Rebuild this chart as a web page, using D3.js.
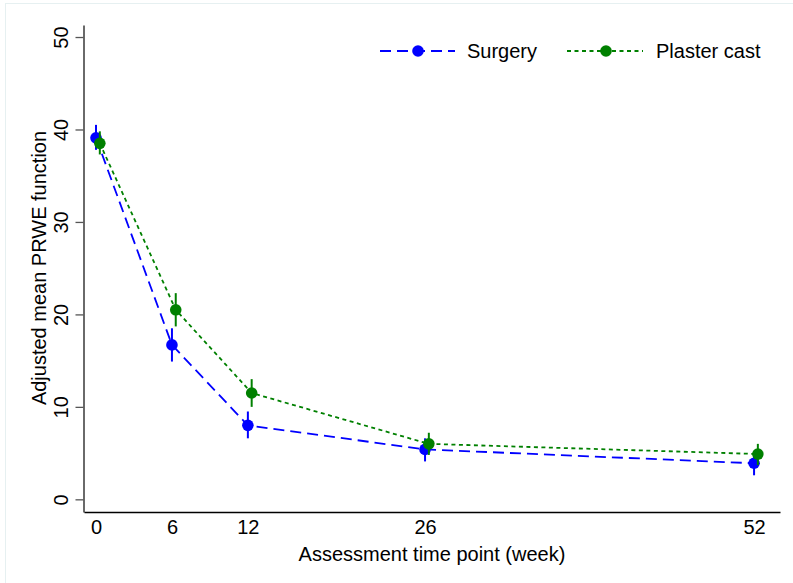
<!DOCTYPE html>
<html>
<head>
<meta charset="utf-8">
<script src="https://cdn.jsdelivr.net/npm/d3@7"></script>
<style>
  html, body { margin: 0; padding: 0; background: #fff; }
  svg { display: block; font-family: "Liberation Sans", Arial, sans-serif; }
</style>
</head>
<body>
<svg id="chart" width="793" height="583"></svg>
<script>
// ---- data ----
const weeks = [0, 6, 12, 26, 52];
const xTickLabels = [0, 6, 12, 26, 52];
const yTickLabels = [0, 10, 20, 30, 40, 50];

const surgeryMean  = [39.1, 16.7, 8.0, 5.4, 3.9];
const surgeryLower = [37.8, 14.9, 6.6, 4.1, 2.6];
const surgeryUpper = [40.5, 18.5, 9.5, 6.6, 5.0];

const plasterMean  = [38.5, 20.5, 11.5, 6.0, 4.9];
const plasterLower = [37.3, 18.7, 10.0, 4.8, 3.7];
const plasterUpper = [39.8, 22.3, 13.0, 7.2, 6.0];

const seriesNames = ["Surgery", "Plaster cast"];

// ---- layout ----
const svg = d3.select("#chart");
const font = 20;

svg.append("rect")
  .attr("x", 5.5).attr("y", 3.5).attr("width", 820).attr("height", 620)
  .attr("fill", "none").attr("stroke", "#e6f0f1").attr("stroke-width", 1);

const x = d3.scaleLinear().domain([-0.95, 54.05]).range([84, 780]);
const y = d3.scaleLinear().domain([-1.37, 51.3]).range([512, 25]);

// y axis
const yAxis = svg.append("g")
  .attr("transform", "translate(83.5,0)")
  .call(d3.axisLeft(y).tickValues(yTickLabels).tickSizeInner(8).tickSizeOuter(0).tickPadding(0));
yAxis.select(".domain").attr("stroke", "#5a5a5a").attr("stroke-width", 1.8);
yAxis.selectAll(".tick line").attr("stroke", "#555").attr("stroke-width", 1.3);
yAxis.selectAll(".tick text")
  .attr("transform", "rotate(-90)")
  .attr("x", 0).attr("y", -16).attr("dy", 0)
  .attr("text-anchor", "middle")
  .attr("font-size", font)
  .attr("font-family", "Liberation Sans, Arial, sans-serif")
  .attr("fill", "#000");

// x axis
const xAxis = svg.append("g")
  .attr("transform", "translate(0,512)")
  .call(d3.axisBottom(x).tickValues(xTickLabels).tickSize(0).tickPadding(8));
xAxis.select(".domain").attr("stroke", "#000").attr("stroke-width", 1.3);
xAxis.selectAll(".tick text")
  .attr("font-size", font)
  .attr("font-family", "Liberation Sans, Arial, sans-serif")
  .attr("fill", "#000");

// axis titles
svg.append("text")
  .attr("x", 432).attr("y", 561)
  .attr("text-anchor", "middle")
  .attr("font-size", font)
  .text("Assessment time point (week)");

svg.append("text")
  .attr("transform", "translate(46,268) rotate(-90)")
  .attr("text-anchor", "middle")
  .attr("font-size", font)
  .text("Adjusted mean PRWE function");

// ---- series ----
const series = [
  { name: seriesNames[0], mean: surgeryMean, lo: surgeryLower, hi: surgeryUpper,
    color: "#0000ff", dash: "11,6", offset: 0 },
  { name: seriesNames[1], mean: plasterMean, lo: plasterLower, hi: plasterUpper,
    color: "#008000", dash: "4,3.5", offset: 0.3 }
];

const line = d3.line().x(d => x(d.w)).y(d => y(d.v));

series.forEach(s => {
  const pts = weeks.map((w, i) => ({ w: w + s.offset, v: s.mean[i], lo: s.lo[i], hi: s.hi[i] }));
  const g = svg.append("g");
  g.append("path")
    .datum(pts)
    .attr("d", line)
    .attr("fill", "none")
    .attr("stroke", s.color)
    .attr("stroke-width", 1.8)
    .attr("stroke-dasharray", s.dash);
  g.selectAll("line.err").data(pts).join("line")
    .attr("class", "err")
    .attr("x1", d => x(d.w)).attr("x2", d => x(d.w))
    .attr("y1", d => y(d.lo)).attr("y2", d => y(d.hi))
    .attr("stroke", s.color).attr("stroke-width", 2);
  g.selectAll("circle").data(pts).join("circle")
    .attr("cx", d => x(d.w)).attr("cy", d => y(d.v))
    .attr("r", 5.8)
    .attr("fill", s.color);
});

// ---- legend ----
const legendItems = [
  { s: series[0], x0: 380, x1: 455, mx: 418, tx: 467 },
  { s: series[1], x0: 567, x1: 643, mx: 606, tx: 656 }
];
const ly = 51;
legendItems.forEach(it => {
  const g = svg.append("g");
  g.append("line")
    .attr("x1", it.x0).attr("x2", it.x1).attr("y1", ly).attr("y2", ly)
    .attr("stroke", it.s.color).attr("stroke-width", 1.8)
    .attr("stroke-dasharray", it.s.dash);
  g.append("circle").attr("cx", it.mx).attr("cy", ly).attr("r", 5.8).attr("fill", it.s.color);
  g.append("text")
    .attr("x", it.tx).attr("y", ly + 7)
    .attr("font-size", font)
    .text(it.s.name);
});
</script>
</body>
</html>
